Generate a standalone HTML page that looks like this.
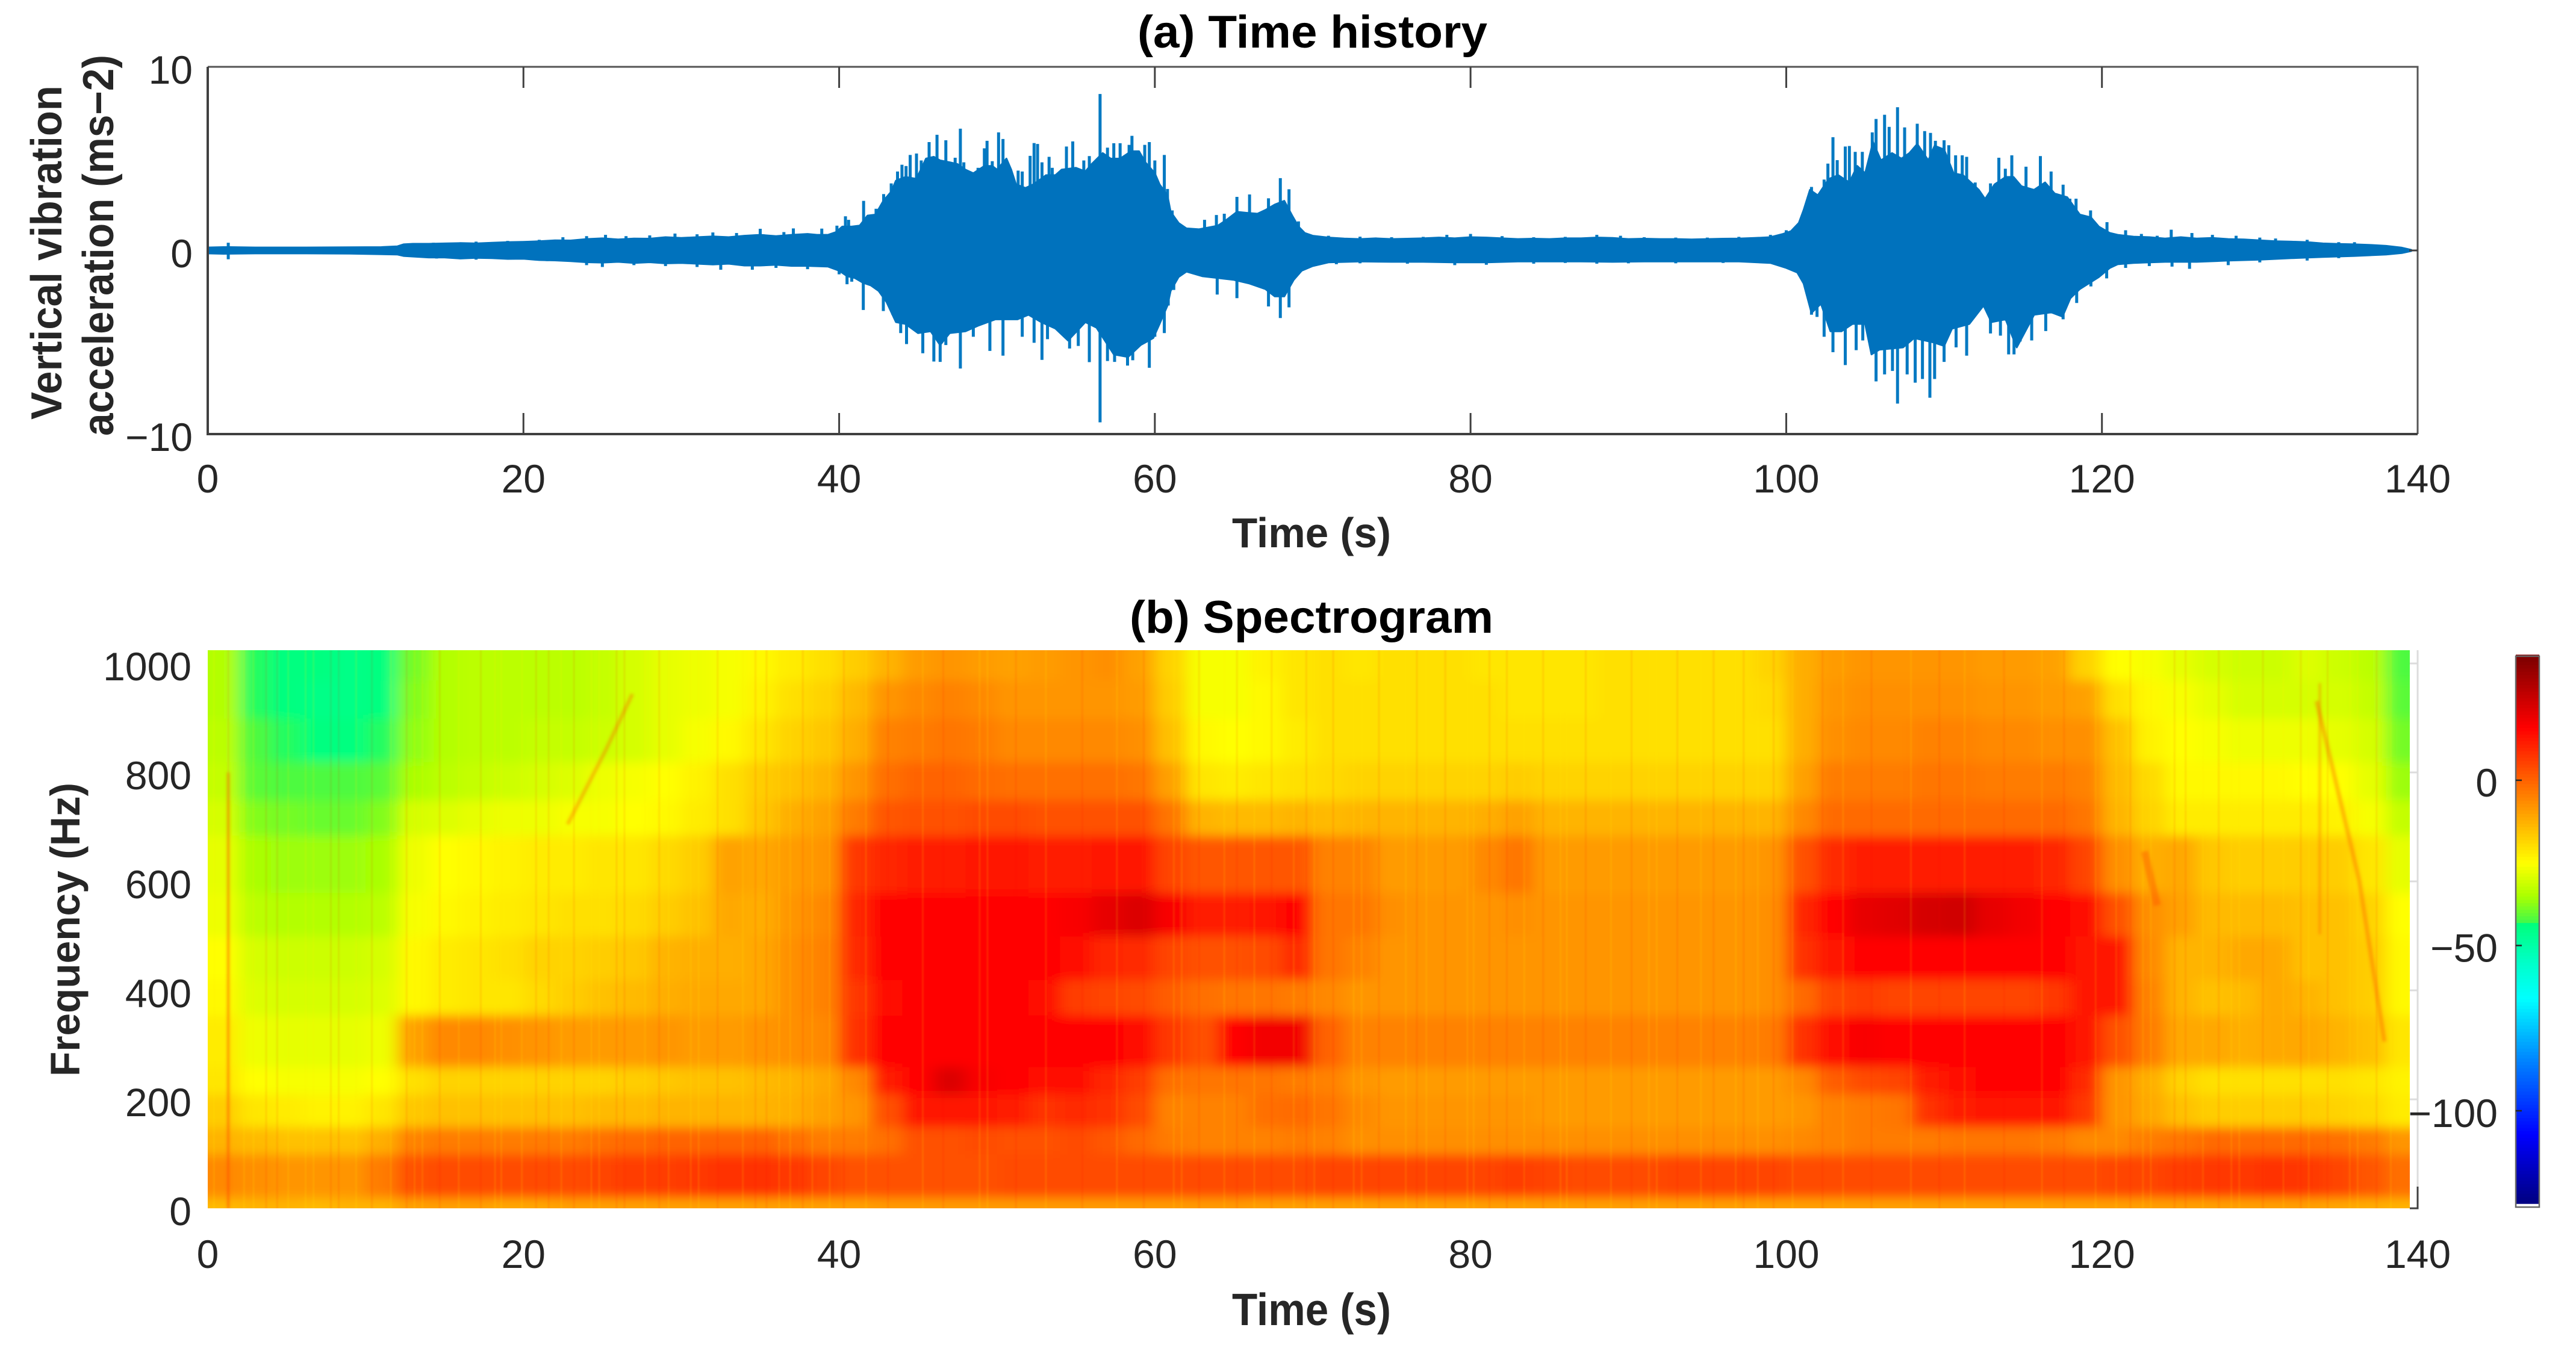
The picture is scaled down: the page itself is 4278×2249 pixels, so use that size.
<!DOCTYPE html>
<html lang="en">
<head>
<meta charset="utf-8">
<title>Time history and spectrogram</title>
<style>
html,body{margin:0;padding:0;background:#fff;}
#figure{display:block;width:4278px;height:2249px;}
text{font-family:"Liberation Sans",Arial,sans-serif;}
.tick{font-size:66px;fill:#262626;}
.lab{font-weight:bold;fill:#262626;}
.ttl{font-weight:bold;font-size:76px;fill:#000;}
</style>
</head>
<body>
<svg id="figure" xmlns="http://www.w3.org/2000/svg" width="4278" height="2249" viewBox="0 0 4278 2249">
  <defs>
    <clipPath id="imgClip"><rect x="345" y="1080" width="3657" height="927"/></clipPath>
    <filter id="soft" filterUnits="userSpaceOnUse" x="200" y="950" width="3950" height="1200">
      <feGaussianBlur stdDeviation="13 9"/>
    </filter>
    <filter id="softRidge" filterUnits="userSpaceOnUse" x="200" y="950" width="3950" height="1200">
      <feGaussianBlur stdDeviation="2.5"/>
    </filter>
    <filter id="softStreak" filterUnits="userSpaceOnUse" x="200" y="950" width="3950" height="1200">
      <feGaussianBlur stdDeviation="1 0"/>
    </filter>
  </defs>
  <rect x="0" y="0" width="4278" height="2249" fill="#fff"/>

  <text class="ttl" x="1889" y="79" textLength="581" lengthAdjust="spacingAndGlyphs">(a) Time history</text>
  <g id="wavePlot"></g>
  <g id="waveAxes"></g>
  <text class="lab" font-size="72" transform="translate(102,697) rotate(-90)" textLength="555" lengthAdjust="spacingAndGlyphs">Vertical vibration</text>
  <text class="lab" font-size="72" transform="translate(188,724) rotate(-90)" textLength="633" lengthAdjust="spacingAndGlyphs">acceleration (ms−2)</text>
  <text class="lab" font-size="70" x="2046" y="909" textLength="264" lengthAdjust="spacingAndGlyphs">Time (s)</text>

  <text class="ttl" x="1876" y="1051" textLength="604" lengthAdjust="spacingAndGlyphs">(b) Spectrogram</text>
  <g id="specClip" clip-path="url(#imgClip)">
    <g id="specCells" filter="url(#soft)"></g>
    <g id="specStreaks" filter="url(#softStreak)"></g>
    <g id="specRidges" filter="url(#softRidge)"></g>
  </g>
  <g id="specAxes"></g>
  <text class="lab" font-size="69" transform="translate(132,1788) rotate(-90)" textLength="488" lengthAdjust="spacingAndGlyphs">Frequency (Hz)</text>
  <text class="lab" font-size="75" x="2046" y="2201" textLength="264" lengthAdjust="spacingAndGlyphs">Time (s)</text>
  <g id="colorbar"></g>
</svg>
<script>
/* ---------- shared tick labels ---------- */
const timeTicks = [0, 20, 40, 60, 80, 100, 120, 140];
const accelTicks = [10, 0, -10];
const freqTicks = [1000, 800, 600, 400, 200, 0];
const colorbarTicks = [0, -50, -100];

/* ---------- (a) solid waveform outline: [time, acceleration] ---------- */
const upperEnvelope = [
  [0,.16],[1,.18],[1.2,.18],[3,.16],[6,.16],[9,.17],[11,.18],[12,.22],[12.4,.33],[13,.36],[14,.36],[15,.38],[16,.4],[17,.38],[18,.42],[19,.45],
  [20,.47],[21,.5],[22,.55],[23,.54],[24,.62],[25,.66],[26,.6],[27,.65],[28,.64],[29,.72],[30,.68],[31,.72],[32,.76],[33,.72],[34,.8],[35,.85],[36,.78],[37,.85],[38,.9],[38.6,.85],[39.3,.85],
  [39.8,1],[40.2,1.3],[40.8,1.3],[41.3,1.35],[41.8,1.9],[42.3,1.95],[42.8,2.7],[43.3,3.2],[43.6,3.8],[44.2,4],[44.9,3.9],[45.5,5],[46,5.1],[46.4,4.9],[47,4.8],[47.5,4.7],[48,4.4],[48.5,4.2],[49.2,4.6],[49.7,4.6],[50,4.4],[50.6,5],[50.9,4.4],[51.2,3.6],[51.8,3.4],[52.3,3.6],[52.8,3.9],[53.1,4.1],[53.7,4.1],[54.1,4.4],[55,4.5],[55.6,4.3],[56,4.7],[56.7,5.3],[57.2,5],[57.8,5],[58.5,5.4],[59,5.4],[59.4,4.8],[60,4.2],[60.3,3.6],[60.8,3],
  [61,2.1],[61.5,1.5],[62,1.2],[62.8,1.15],[63.4,1.25],[64,1.35],[64.6,1.7],[65.2,2.1],[65.8,2.05],[66.5,2],[67,2.2],[67.6,2.5],[68.2,2.7],[68.7,1.9],[69.1,1.3],[69.5,.95],[70,.8],[71,.7],[72,.65],
  [73,.62],[74,.66],[75,.62],[76,.64],[77,.66],[78,.7],[79,.66],[80,.72],[81,.7],[82,.66],[83,.62],[84,.64],[85,.62],[86,.66],[87,.66],[88,.7],[89,.68],[90,.62],[91,.64],[92,.62],[93,.62],[94,.6],[95,.62],[96,.64],[97,.65],[98,.68],[99,.72],[99.8,.9],[100.3,1.05],[100.8,1.5],[101.1,2.2],[101.5,3.3],
  [102,3],[102.7,3.9],[103.3,4.1],[104,3.7],[104.5,4.6],[105,4.2],[105.5,5.9],[106,4.9],[106.7,5.3],[107.3,5],[107.8,5.3],[108.3,5.8],[109,4.9],[109.4,5.7],[110,5.5],[110.6,4.2],[111.2,4.1],[111.7,3.7],[112.2,3.3],[112.6,2.8],[113.2,3.6],[113.9,4],[114.4,4],[114.9,3.5],[115.7,3.3],[116.4,3.7],[117,3.1],[117.8,2.9],[118.6,1.95],[119.3,1.8],[119.8,1.3],[120.5,.95],
  [121,.85],[122,.75],[123,.72],[124,.65],[125,.72],[126,.65],[127,.68],[128,.62],[129,.6],[130,.55],[131,.5],[132,.48],[133,.45],[134,.38],[135,.35],[136,.33],[137,.3],[138,.25],[139,.15],[139.6,.03]
];
const lowerEnvelope = [
  [0,-.16],[1,-.18],[3,-.16],[6,-.16],[9,-.17],[12,-.22],[12.4,-.3],[14,-.38],[15,-.38],[16,-.44],[17,-.4],[18,-.42],[19,-.46],[20,-.45],[21,-.52],[22,-.54],[23,-.58],[24,-.64],[25,-.66],[26,-.62],[27,-.68],[28,-.64],[29,-.7],[30,-.68],[31,-.72],[32,-.76],[33,-.72],[34,-.82],[35,-.82],[36,-.78],[37,-.84],[38,-.84],[39.3,-.88],
  [40,-1.1],[40.5,-1.4],[41,-1.5],[41.5,-1.75],[42,-1.9],[42.5,-2.2],[43,-2.8],[43.6,-3.9],[44.2,-4],[45,-4.5],[45.8,-4.4],[46.4,-5.15],[47,-4.5],[48,-4.4],[48.8,-4.1],[49.9,-3.75],[51.3,-3.75],[52,-3.5],[52.8,-3.9],[53.7,-4.25],[54.5,-4.9],[55.6,-3.9],[56.3,-4.2],[57.4,-5.66],[58.3,-5.8],[59.1,-5.15],[59.9,-4.77],[60.3,-4],[60.8,-3],
  [61,-2.2],[61.5,-1.45],[62,-1.15],[63,-1.4],[64,-1.5],[65,-1.6],[66,-1.8],[67,-2.1],[67.6,-2.5],[68.2,-2.5],[68.8,-1.6],[69.3,-1.1],[70,-.85],[71,-.65],
  [73,-.6],[75,-.62],[77,-.62],[79,-.65],[81,-.65],[83,-.6],[85,-.6],[87,-.6],[89,-.62],[91,-.6],[93,-.6],[95,-.6],[97,-.6],[99,-.68],[100,-.95],[100.7,-1.2],[101.1,-1.8],[101.6,-3.4],
  [102.2,-2.9],[102.8,-4.4],[103.5,-4.4],[104.2,-4],[105,-4],[105.4,-5.66],[105.9,-5.4],[107.4,-5.28],[108.1,-4.77],[109.3,-5],[110,-5.2],[110.5,-4.26],[111.6,-4],[112.5,-3],[113,-3.9],[113.9,-3.75],[114.6,-5.28],[115.7,-3.5],[116.8,-3.37],[117.5,-3.6],[118,-2.6],[118.6,-2.1],[119.8,-1.45],[120.5,-.95],
  [121,-.75],[122,-.68],[124,-.62],[126,-.62],[128,-.55],[130,-.5],[132,-.42],[134,-.35],[136,-.3],[138,-.22],[139,-.14],[139.6,-.03]
];

/* individual peaks [time, acceleration] */
const upperPeaks = [
  [1.3,.42],[14.3,.42],[17,.48],[19,.52],[21,.58],[22.5,.72],[24,.78],[25.2,.85],[26.5,.78],[28,.82],
  [29.6,.92],[31,.88],[32,.98],[33.5,.95],[35,1.18],[36.5,1],[37.1,1.2],[38.9,1.19],[39.86,1.35],[40.4,1.86],[40.6,1.67],
  [41.55,2.7],[42.34,2.27],[42.82,3.07],[43.3,3.65],[43.7,4.3],[43.98,4.67],[44.24,4.6],[44.5,5.2],[44.9,5.28],[45.2,4.9],
  [45.7,5.9],[46.2,6.3],[46.76,6],[47.35,5.05],[47.68,6.63],[47.9,4.8],[48.8,4.5],[49.2,5.56],[49.37,5.97],[49.7,4.86],
  [50.1,6.43],[50.38,6.07],[50.86,4.35],[51.34,4.35],[51.6,4.3],[52.1,5.15],[52.35,5.85],[52.57,5.8],[52.85,4.8],[53.3,5.1],
  [53.5,4.5],[54.4,5.66],[54.8,5.94],[55.5,4.9],[55.85,5.14],[56.53,8.52],[57,5.6],[57.4,5.84],[57.8,5.84],[58.37,5.75],
  [58.55,6.24],[59.36,5.75],[59.65,5.9],[60,4.9],[60.6,5.2],[60.8,3.35],[61.1,2.18],[63.15,1.67],[63.9,1.93],[64.4,2],
  [65.2,2.92],[66,3.05],[67.2,2.84],[67.95,3.94],[68.5,3.33],[69.1,1.58],
  [71,.8],[73,.75],[75,.72],[77,.74],[78.5,.85],[80,.9],[82,.78],[84,.72],[86,.74],[88,.85],[89.5,.8],[91,.72],[93,.7],[95,.7],[97,.74],[99,.85],[100,1.1],
  [101.6,3.46],[102.4,3.86],[102.64,4.73],[102.96,6.17],[103.23,4.92],[103.74,5.66],[104,5.69],[104.37,5.37],[104.82,5.37],[105.45,6.43],
  [105.69,7.16],[106.23,7.39],[106.52,6.73],[107.05,7.8],[107.5,6.7],[108.3,6.9],[108.77,6.5],[109.14,6.4],[109.45,5.97],[110,6],
  [110.3,5.73],[110.73,5.18],[111.15,5.18],[111.43,5.1],[111.97,3.7],[112.94,3.65],[113.47,5.05],[113.88,4.45],[114.29,5.18],[115.19,4.56],
  [116.1,5.14],[116.78,4.3],[117.54,3.58],[117.97,2.82],[118.36,2.82],[119.28,2.18],[120.32,1.54],
  [121.5,1.1],[122.5,.9],[123.5,.8],[124.39,1.13],[125.7,.95],[127,.85],[128.5,.8],[130,.7],[131,.65],[133,.58],[135,.45],[136,.45]
];
const lowerPeaks = [
  [1.3,-.48],[14.5,-.44],[17,-.5],[21.5,-.58],[24,-.8],[25,-.9],[27,-.8],[29,-.85],[31,-.9],[32.5,-1.05],[34.5,-1.05],[36,-.95],[38,-1.02],[40,-1.3],[40.5,-1.84],[40.8,-1.7],
  [41.53,-3.24],[42.8,-3.3],[43.4,-3.5],[43.9,-4.5],[44.27,-5.1],[45.3,-5.6],[46,-6.05],[46.4,-6.07],[46.76,-5.15],[47.68,-6.43],
  [48.5,-4.7],[49.55,-5.47],[50.38,-5.73],[51.6,-4.7],[52.35,-5.03],[52.85,-5.96],[53.2,-4.83],[54.6,-5.34],[55.15,-5.2],[55.85,-6.08],
  [56.53,-9.36],[57,-6.02],[57.45,-6.07],[58.27,-6.27],[58.6,-5.98],[59.65,-6.39],[60,-4.7],[60.6,-4.5],[60.85,-3],[61.2,-2.15],
  [63.95,-2.4],[65.2,-2.6],[67.2,-3.05],[67.95,-3.68],[68.5,-3.1],
  [71.5,-.75],[73,-.7],[76,-.72],[79,-.8],[81,-.78],[84,-.72],[86,-.68],[88,-.72],[90,-.7],[93,-.7],[96,-.68],
  [101.6,-3.5],[101.95,-3.62],[102.4,-4.7],[102.96,-5.54],[103.74,-6.24],[104.43,-5.43],[104.85,-4.9],[105.69,-7.13],[106.23,-6.75],[106.73,-6.56],
  [107.05,-8.34],[107.66,-6.75],[108.17,-7.2],[108.63,-7],[109.1,-8.02],[109.4,-7],[110,-6.07],[110.76,-5.28],[111.43,-5.73],[112.94,-4.52],
  [113.57,-4.64],[114.09,-5.66],[114.43,-5.66],[114.82,-4.96],[115.55,-4.9],[116.44,-4.39],[116.78,-3.43],[117.54,-3.75],[118.4,-2.86],[119.3,-1.96],
  [120.3,-1.52],[121.5,-.95],[123,-.85],[124.44,-.88],[125.55,-1],[128,-.8],[130,-.65],[133,-.55],[135,-.42]
];

/* ---------- (b) spectrogram values (dB): one row per frequency band, one column per 2 s ---------- */
const freqEdges = [0,20,100,150,210,260,355,420,500,580,685,750,820,900,970,1024];
const binSeconds = 2;
const spectrogramDb = [
 [-14,-13,-13,-14,-13,-13,-10,-10,-10,-11, -11,-10,-10,-10,-10,-10,-10,-10,-10,-10, -10,-9,-9,-9,-9,-9,-9,-9,-9,-9, -9,-9,-9,-10,-10,-10,-10,-10,-10,-10, -10,-10,-10,-10,-10,-10,-10,-10,-10,-10, -10,-10,-10,-10,-10,-10,-10,-10,-10,-10, -10,-10,-10,-10,-10,-10,-10,-11,-12,-13],
 [-6,-7,-8,-8,-8,-4,3,4,4,4, 4,4,5,6,6,7,8,8,7,5, 3,3,3,3,3,4,4,4,4,4, 4,4,4,4,4,5,5,5,5,5, 5,6,5,4,4,4,5,5,5,5, 4,4,4,4,4,4,4,4,4,4, 5,5,6,7,7,8,7,5,2,-2],
 [-13,-14,-15,-15,-15,-12,-5,-4,-4,-4, -4,-4,-2,-1,0,0,0,0,-2,-4, -4,-2,3,3,4,3,3,4,2,-1, -4,-5,-5,-5,-4,-5,-7,-7,-7,-7, -7,-7,-7,-7,-7,-7,-7,-7,-7,-7, -6,-5,-4,-4,-4,-3,-3,-3,-4,-6, -6,-4,-3,-1,-1,-1,-1,-2,-4,-8],
 [-17,-21,-22,-23,-23,-21,-16,-15,-15,-15, -15,-15,-14,-14,-13,-13,-13,-13,-12,-10, -8,3,12,13,13,11,8,9,8,4, -5,-5,-5,-2,-1,-3,-6,-8,-8,-8, -8,-8,-9,-9,-9,-9,-9,-9,-9,-9, -8,-5,-4,-3,8,11,12,13,12,7, -8,-11,-15,-17,-17,-17,-17,-18,-19,-22],
 [-21,-25,-26,-26,-26,-25,-20,-18,-18,-18, -18,-18,-18,-17,-16,-15,-15,-14,-13,-11, -6,11,15,22,17,15,14,14,10,6, -2,-3,-3,-3,-4,-5,-8,-9,-9,-9, -9,-9,-9,-9,-9,-9,-9,-9,-9,-9, -6,1,4,5,11,14,16,16,15,9, -8,-12,-18,-20,-20,-20,-20,-20,-21,-23],
 [-22,-27,-28,-28,-28,-27,-10,-6,-6,-7, -8,-9,-9,-9,-8,-9,-9,-8,-7,-6, 8,15,16,16,16,16,16,15,15,14, 7,3,16,18,18,0,-5,-5,-5,-5, -5,-5,-5,-5,-5,-5,-5,-5,-5,-4, 8,14,17,15,16,16,16,16,16,12, 3,-4,-11,-11,-12,-11,-11,-13,-15,-21],
 [-24,-29,-30,-30,-30,-29,-24,-22,-21,-21, -19,-17,-15,-14,-12,-11,-11,-11,-7,-5, 7,14,15,15,15,15,14,6,5,4, 1,-2,-3,-3,-4,-6,-8,-8,-8,-8, -8,-8,-8,-8,-8,-8,-8,-8,-8,-7, -1,5,6,5,5,5,5,5,7,12, 12,-5,-13,-15,-14,-11,-13,-15,-17,-24],
 [-25,-30,-31,-31,-31,-30,-24,-22,-21,-20, -18,-18,-17,-16,-13,-12,-12,-11,-7,-5, 9,15,16,16,16,16,16,14,10,9, 5,3,3,4,9,-3,-5,-8,-8,-8, -8,-8,-8,-8,-8,-8,-8,-8,-8,-7, 8,13,15,15,15,15,15,15,15,13, 13,-6,-13,-13,-11,-11,-15,-15,-17,-24],
 [-27,-33,-34,-34,-34,-33,-26,-24,-23,-22, -21,-20,-20,-19,-17,-15,-11,-12,-8,-6, 10,15,15,15,16,16,16,17,20,22, 17,11,11,13,15,-3,-3,-7,-8,-8, -8,-7,-8,-8,-8,-8,-8,-8,-8,-7, 10,16,20,21,23,24,20,18,15,14, 3,-7,-10,-14,-14,-14,-15,-15,-18,-25],
 [-28,-35,-36,-36,-36,-35,-27,-25,-24,-23, -22,-22,-21,-21,-19,-17,-10,-11,-9,-8, 7,10,11,11,12,12,11,11,12,12, 5,2,2,2,2,-5,-5,-9,-9,-9, -6,-3,-9,-9,-9,-9,-9,-9,-9,-8, 3,9,11,11,11,11,11,11,10,5, -7,-12,-11,-16,-17,-17,-17,-17,-21,-28],
 [-30,-38,-39,-40,-40,-38,-30,-29,-28,-27, -27,-26,-26,-25,-24,-22,-20,-16,-12,-10, -4,2,3,3,4,4,3,3,3,3, -3,-13,-14,-14,-13,-14,-13,-13,-13,-13, -12,-10,-13,-13,-13,-13,-13,-13,-13,-13, -6,-1,-1,-1,-1,-1,-1,-1,-1,-3, -13,-18,-22,-22,-22,-22,-22,-23,-26,-32],
 [-32,-41,-42,-42,-42,-41,-35,-33,-32,-31, -30,-29,-27,-26,-25,-23,-20,-17,-15,-13, -8,-2,0,0,-1,-2,-2,-2,-2,-3, -10,-21,-22,-21,-20,-19,-18,-18,-18,-18, -18,-17,-18,-18,-18,-18,-18,-18,-18,-18, -10,-4,-4,-4,-3,-3,-4,-4,-4,-5, -14,-19,-24,-24,-24,-24,-25,-25,-28,-36],
 [-33,-42,-43,-44,-44,-43,-37,-34,-33,-33, -32,-32,-31,-30,-28,-26,-24,-21,-18,-16, -12,-5,-4,-3,-4,-6,-6,-6,-6,-7, -15,-24,-25,-24,-22,-20,-20,-20,-20,-20, -20,-20,-20,-20,-20,-20,-20,-20,-20,-20, -12,-7,-6,-6,-5,-5,-6,-6,-7,-7, -15,-23,-25,-26,-27,-27,-27,-28,-30,-39],
 [-34,-43,-44,-45,-45,-44,-38,-34,-33,-33, -33,-33,-32,-30,-28,-27,-26,-23,-20,-18, -14,-8,-6,-5,-6,-8,-8,-8,-8,-9, -17,-26,-26,-24,-21,-20,-20,-20,-20,-20, -20,-21,-21,-21,-20,-20,-20,-20,-20,-19, -12,-8,-7,-7,-7,-7,-8,-8,-9,-10, -20,-24,-26,-28,-30,-30,-30,-30,-32,-41],
 [-34,-43,-44,-44,-45,-44,-39,-34,-33,-33, -33,-33,-32,-30,-28,-27,-26,-24,-22,-20, -17,-13,-9,-8,-9,-10,-9,-8,-7,-10, -18,-26,-26,-23,-21,-20,-21,-20,-20,-20, -21,-21,-21,-21,-20,-20,-20,-20,-20,-18, -12,-9,-8,-8,-8,-8,-9,-9,-10,-18, -25,-26,-28,-30,-31,-31,-29,-31,-33,-42]
];

/* fine vertical streaks seen in the spectrogram (s): unevenly spaced */
const lightStreaks = [
  0.4,2.3,2.9,5.1,6.2,6.7,9.4,11.6,13.1,13.6,15.9,18.2,18.6,19.9,22.4,24.3,24.8,27.7,29.2,30.6,
  31.1,33.9,36.2,36.9,38.3,39.4,41.7,45.3,48.9,49.4,53.1,57.6,61.2,61.7,64.4,66.3,68.8,70.1,72.6,73.1,
  75.9,77.2,79.8,80.2,83.4,85.7,86.1,88.9,91.3,91.8,94.6,96.8,98.2,100.4,103.6,107.9,111.3,116.2,119.6,120.9,
  122.6,123.1,126.4,128.2,128.7,131.5,133.1,135.7,136.2,138.3
];
const darkStreaks = [
  1.3,3.7,4.4,7.8,8.3,10.4,12.6,14.7,17.3,20.8,21.6,23.2,25.9,26.4,28.6,32.3,34.7,35.4,37.7,40.3,
  43.1,46.6,51.2,55.4,59.3,62.8,65.2,67.4,69.6,71.3,74.2,76.6,78.4,81.2,82.3,84.6,87.3,90.2,93.1,95.4,
  97.3,99.2,102.3,105.4,109.7,113.8,117.6,121.8,124.6,125.3,127.4,130.2,132.6,134.3,137.4
];

/* thin ridges visible on the spectrogram: time (s) and frequency (Hz) */
const ridgeOneTime = [1.3, 1.3];
const ridgeOneFreq = [800, 0];
const ridgeTwoTime = [22.8, 25.2, 26.9];
const ridgeTwoFreq = [705, 840, 944];
const ridgeThreeTime = [133.6, 136.3, 137.9];
const ridgeThreeFreq = [931, 602, 306];
const ridgeFourTime = [133.8, 133.8];
const ridgeFourFreq = [964, 503];
const ridgeFiveTime = [122.7, 123.5];
const ridgeFiveFreq = [655, 556];

/* ---------- colour scale: dB value and its colour ---------- */
const colorDb = [-128,-107,-85,-66,-55,-43.5,-42.5,-35,-25,-8,16,37];
const colorRed = [0,0,0,0,0,0,70,170,255,255,255,128];
const colorGreen = [0,0,130,255,255,255,250,255,255,149,0,0];
const colorBlue = [128,255,255,255,200,125,70,0,0,0,0,0];

/* ---------- axis functions ---------- */
const SVGNS = 'http://www.w3.org/2000/svg';
const timeX = t => 345 + t * (4015 - 345) / 140;
const accelY = a => 416 - a * 30.5;
const freqY = f => 2007 - f * 0.905;
const dbY = d => 1296 - d * 5.49;

function dbColor(d) {
  if (d <= colorDb[0]) return 'rgb(' + colorRed[0] + ',' + colorGreen[0] + ',' + colorBlue[0] + ')';
  for (let i = 1; i < colorDb.length; i++) {
    if (d <= colorDb[i]) {
      const f = (d - colorDb[i-1]) / (colorDb[i] - colorDb[i-1]);
      const mix = a => Math.round(a[i-1] + (a[i] - a[i-1]) * f);
      return 'rgb(' + mix(colorRed) + ',' + mix(colorGreen) + ',' + mix(colorBlue) + ')';
    }
  }
  const n = colorDb.length - 1;
  return 'rgb(' + colorRed[n] + ',' + colorGreen[n] + ',' + colorBlue[n] + ')';
}

function shape(tag, parent, attrs) {
  const el = document.createElementNS(SVGNS, tag);
  for (const k in attrs) el.setAttribute(k, attrs[k]);
  parent.appendChild(el);
  return el;
}
function label(parent, x, y, anchor, str) {
  const el = shape('text', parent, {x: x, y: y, 'text-anchor': anchor, 'class': 'tick'});
  el.textContent = str;
  return el;
}
const fmt = v => String(v).replace('-', '\u2212');

/* ---------- waveform ---------- */
const wavePlot = document.getElementById('wavePlot');
upperPeaks.concat(lowerPeaks).forEach(p => {
  const peak = shape('line', wavePlot, {x1: timeX(p[0]), x2: timeX(p[0]), y1: accelY(0), y2: accelY(p[1]), stroke: '#0479C2', 'stroke-width': 5});
  
  
});
let d = '';
upperEnvelope.forEach((p, i) => { d += (i ? 'L' : 'M') + timeX(p[0]).toFixed(1) + ' ' + accelY(p[1]).toFixed(1); });
for (let i = lowerEnvelope.length - 1; i >= 0; i--) { d += 'L' + timeX(lowerEnvelope[i][0]).toFixed(1) + ' ' + accelY(lowerEnvelope[i][1]).toFixed(1); }
const waveArea = shape('path', wavePlot, {d: d + 'Z', fill: '#0072BD', stroke: '#0072BD', 'stroke-width': 3, 'stroke-linejoin': 'round'});



/* ---------- top axes ---------- */
const waveAxes = document.getElementById('waveAxes');
const waveBox = shape('path', waveAxes, {d: 'M345 111H4015V721', fill: 'none', stroke: '#555', 'stroke-width': 3});


const waveBottom = shape('path', waveAxes, {d: 'M4015 721H345V111', fill: 'none', stroke: '#404040', 'stroke-width': 4});


timeTicks.forEach(t => {
  if (t > 0 && t < 140) {
    const tickTop = shape('line', waveAxes, {x1: timeX(t), x2: timeX(t), y1: 111, y2: 146, stroke: '#404040', 'stroke-width': 3});
    
    
    const tickBottom = shape('line', waveAxes, {x1: timeX(t), x2: timeX(t), y1: 686, y2: 721, stroke: '#404040', 'stroke-width': 3});
    
    
  }
  const xLabel = label(waveAxes, timeX(t), 818, 'middle', fmt(t));
  
  
});
accelTicks.forEach(a => {
  const yLabel = label(waveAxes, 320, accelY(a) + 28, 'end', fmt(a));
  
  
  if (a === 0) {
    const yTick = shape('line', waveAxes, {x1: 4001, x2: 4015, y1: accelY(a), y2: accelY(a), stroke: '#404040', 'stroke-width': 3});
    
    
  }
});

/* ---------- spectrogram cells ---------- */
const specCells = document.getElementById('specCells');
spectrogramDb.forEach((row, r) => {
  const yTop = freqY(freqEdges[r + 1]) - (r === spectrogramDb.length - 1 ? 60 : 0);
  const yBot = freqY(freqEdges[r]) + (r === 0 ? 60 : 0);
  row.forEach((v, c) => {
    const xL = timeX(c * binSeconds) - (c === 0 ? 60 : 0);
    const xR = timeX((c + 1) * binSeconds) + (c === row.length - 1 ? 60 : 0);
    const cell = shape('rect', specCells, {x: xL.toFixed(1), y: yTop.toFixed(1), width: (xR - xL + 1).toFixed(1), height: (yBot - yTop + 1).toFixed(1), fill: dbColor(v)});
    
    
  });
});

/* ---------- streaks ---------- */
const specStreaks = document.getElementById('specStreaks');
lightStreaks.forEach(t => {
  const streak = shape('line', specStreaks, {x1: timeX(t), x2: timeX(t), y1: 1080, y2: 2007, stroke: '#ffe600', 'stroke-width': 3, opacity: .14});
  
  
});
darkStreaks.forEach(t => {
  const streak = shape('line', specStreaks, {x1: timeX(t), x2: timeX(t), y1: 1080, y2: 2007, stroke: '#ff2a00', 'stroke-width': 3, opacity: .09});
  
  
});

/* ---------- ridges ---------- */
const specRidges = document.getElementById('specRidges');
[[ridgeOneTime, ridgeOneFreq, 5, .4], [ridgeTwoTime, ridgeTwoFreq, 6, .35], [ridgeThreeTime, ridgeThreeFreq, 7, .35], [ridgeFourTime, ridgeFourFreq, 4, .35], [ridgeFiveTime, ridgeFiveFreq, 12, .4]].forEach(set => {
  const pts = set[0].map((t, i) => timeX(t).toFixed(1) + ',' + freqY(set[1][i]).toFixed(1)).join(' ');
  const ridge = shape('polyline', specRidges, {points: pts, fill: 'none', stroke: '#ff5000', 'stroke-width': set[2], opacity: set[3]});
  
  
});

/* ---------- bottom axes ---------- */
const specAxes = document.getElementById('specAxes');
const specRight = shape('line', specAxes, {x1: 4015, x2: 4015, y1: 1080, y2: 1972, stroke: '#dcdcdc', 'stroke-width': 3});


const specCorner = shape('path', specAxes, {d: 'M4015 1971V2007H4002', fill: 'none', stroke: '#404040', 'stroke-width': 3});


freqTicks.forEach(f => {
  const fLabel = label(specAxes, 318, freqY(f) + 28, 'end', fmt(f));
  
  
  if (f > 0) {
    const fTick = shape('line', specAxes, {x1: 4002, x2: 4015, y1: freqY(f), y2: freqY(f), stroke: '#dcdcdc', 'stroke-width': 3});
    
    
  }
});
timeTicks.forEach(t => {
  const xLabel = label(specAxes, timeX(t), 2106, 'middle', fmt(t));
  
  
});

/* ---------- colorbar ---------- */
const colorbar = document.getElementById('colorbar');
for (let v = -128; v < 37.5; v += 1) {
  const band = shape('rect', colorbar, {x: 4178, y: dbY(v + 1).toFixed(1), width: 39, height: 6.5, fill: dbColor(v + .5)});
  
  
}
const barFrame = shape('rect', colorbar, {x: 4178, y: 1090, width: 39, height: 915, fill: 'none', stroke: '#666', 'stroke-width': 2.5});


colorbarTicks.forEach(v => {
  const barTick = shape('line', colorbar, {x1: 4178, x2: 4188, y1: dbY(v), y2: dbY(v), stroke: '#262626', 'stroke-width': 2.5});
  
  
  const barLabel = label(colorbar, 4148, dbY(v) + 27, 'end', fmt(v));
  
  
});
</script>
</body>
</html>
